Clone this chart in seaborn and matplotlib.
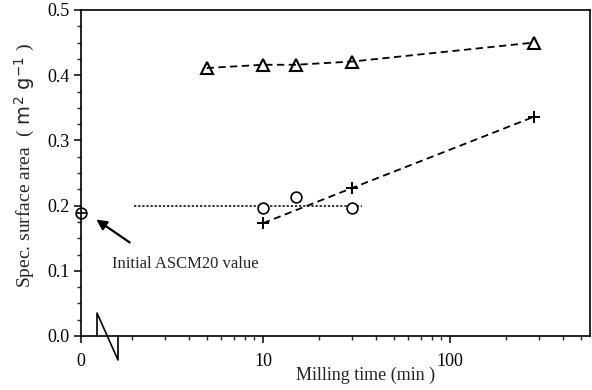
import matplotlib
matplotlib.use("Agg")
import matplotlib.pyplot as plt
import seaborn as sns
import numpy as np
from matplotlib.ticker import FixedLocator, NullFormatter, MultipleLocator, FormatStrFormatter
from matplotlib.lines import Line2D

# ---- data ----
zero_pos = 1.064          # where "0" sits on the log axis
tri_time = [5, 10, 15, 30, 280]
tri_area = [0.411, 0.416, 0.416, 0.421, 0.450]
plus_time = [10, 30, 280]
plus_area = [0.173, 0.227, 0.336]
circ_time = [10, 15, 30]
circ_area = [0.197, 0.213, 0.197]
init_time = [zero_pos]
init_area = [0.189]
ref_line_time = [2.05, 34]
ref_line_area = [0.199, 0.199]

sns.set_style("ticks")
plt.rcParams['font.family'] = ['Liberation Serif', 'DejaVu Serif']
plt.rcParams['mathtext.default'] = 'regular'
plt.rcParams['mathtext.fontset'] = 'custom'
plt.rcParams['mathtext.sf'] = 'DejaVu Sans'
plt.rcParams['mathtext.rm'] = 'Liberation Serif'

fig = plt.figure(figsize=(5.92, 3.90), dpi=100)
ax = fig.add_axes([81/592, 1-336/390, (590-81)/592, (336-10)/390])
ax.set_xscale('log')

k = dict(color='black', lw=1.3, ax=ax, legend=False)
sns.lineplot(x=tri_time, y=tri_area, marker='^', markersize=8, markerfacecolor='none',
             markeredgecolor='black', markeredgewidth=1.5, linestyle=(0, (4, 2.5)), **k)
sns.lineplot(x=plus_time, y=plus_area, marker='+', markersize=8,
             markeredgecolor='black', markeredgewidth=1.4, linestyle=(0, (4, 2.5)), **k)
sns.lineplot(x=ref_line_time, y=ref_line_area, linestyle=(0, (1.5, 1.2)), color='black', lw=1.1, ax=ax, legend=False)
sns.scatterplot(x=circ_time, y=circ_area, marker='o', s=60, facecolor='white',
                edgecolor='black', linewidth=1.2, ax=ax, zorder=5, legend=False)
sns.scatterplot(x=init_time, y=init_area, marker='o', s=60, facecolor='white',
                edgecolor='black', linewidth=1.2, ax=ax, zorder=5, legend=False, clip_on=False)
sns.scatterplot(x=init_time, y=init_area, marker='+', s=60, color='black',
                linewidth=1.2, ax=ax, zorder=6, legend=False, clip_on=False)

ax.set_xlim(zero_pos, 561)
ax.set_ylim(0, 0.5)

ax.xaxis.set_major_locator(FixedLocator([zero_pos, 10, 100]))
ax.set_xticklabels(['0', '10', '100'])
minors = [m * d for d in (1, 10, 100) for m in range(2, 10) if m * d < 561]
ax.xaxis.set_minor_locator(FixedLocator(minors))
ax.xaxis.set_minor_formatter(NullFormatter())
ax.yaxis.set_major_locator(MultipleLocator(0.1))
ax.yaxis.set_minor_locator(MultipleLocator(0.025))
ax.yaxis.set_major_formatter(FormatStrFormatter('%.1f'))

ax.tick_params(axis='both', which='major', direction='out', length=5, width=1.1, labelsize=13, colors='black')
ax.tick_params(axis='both', which='minor', direction='out', length=3, width=1.0)
ax.tick_params(axis='x', which='major', pad=7)
ax.tick_params(axis='y', which='major', pad=3)
for s in ax.spines.values():
    s.set_visible(True)
    s.set_linewidth(1.2)
    s.set_color('black')

ax.set_xlabel('Milling time (min )', fontsize=13, labelpad=0)
ax.xaxis.set_label_coords((366-81)/509, -0.095)
ax.set_ylabel(r'Spec. surface area  $(\ \mathsf{m}^{\mathsf{2}}\ \mathsf{g}^{\mathsf{-1}}\ )$', fontsize=14)
ax.yaxis.set_label_coords((36-81)/509, 0.525)

# axis break symbol
def px(xp, yp):
    return (xp/592, 1 - yp/390)
bx = [97, 97, 118, 118]
by = [336, 313, 360, 336]
fig.add_artist(Line2D([b/592 for b in bx], [1 - b/390 for b in by], color='black', lw=1.2,
                      transform=fig.transFigure))

# annotation
ax.annotate('Initial ASCM20 value', xy=px(95, 219), xycoords='figure fraction',
            xytext=px(112, 264), textcoords='figure fraction', fontsize=12, va='center')
ax.annotate('', xy=px(94, 218), xycoords='figure fraction',
            xytext=px(132, 244), textcoords='figure fraction',
            arrowprops=dict(arrowstyle='-|>,head_length=0.6,head_width=0.3', color='black', lw=1.6))

fig.savefig('out.png', dpi=100)
